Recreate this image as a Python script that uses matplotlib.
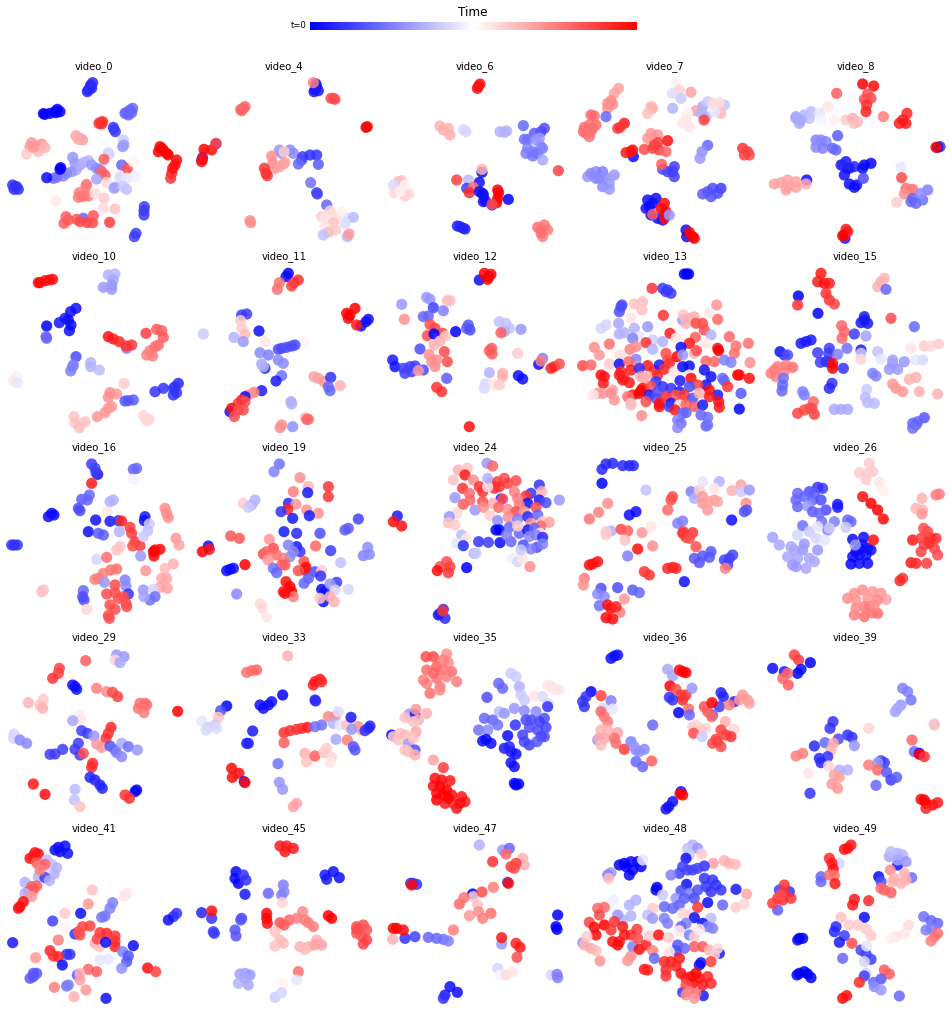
import numpy as np
import matplotlib
matplotlib.use('Agg')
import matplotlib.pyplot as plt

# each list: (x, y, t), embedding, t is normalised time
video_0 = [(265,60,.08),(272,45,.08),(278,38,.08),(262,65,.08),(275,55,.08),(270,52,.08),(135,133,0),(150,130,0),(165,125,0),(172,118,0),(168,128,.02),(130,131,0),(180,125,0),
 (378,128,.2),(390,120,.2),(398,115,.2),(385,135,.2),(375,130,.2),(395,128,.2),(302,157,.9),(308,155,.9),(297,160,.9),(305,162,.9),(342,178,.12),(346,185,.12),(340,172,.12),
 (370,210,.4),(372,225,.32),(368,230,.3),(228,197,.68),(240,205,.68),(248,210,.68),(235,208,.66),(95,218,.7),(90,230,.7),(110,228,.7),(125,222,.7),(135,233,.65),(115,245,.63),(80,252,.6),(100,232,.7),
 (328,252,.42),(325,248,.42),(312,268,.82),(365,285,.2),(382,295,.85),(400,275,.52),(218,262,.3),(225,280,.3),(240,285,.32),(250,278,.35),(265,272,.35),(275,285,.3),(290,295,.28),(300,300,.25),(228,300,.33),(215,305,.3),(200,310,.27),(190,318,.25),(170,322,.23),(160,325,.22),
 (182,293,0),(180,298,0),(140,323,.02),(305,305,.8),(315,315,.82),(360,322,.42),(380,325,.45),(405,320,.47),(290,327,.32),(320,338,.57),(342,355,.33),(345,352,.32),(370,350,.4),(380,358,.38),
 (260,343,.75),(258,348,.76),(238,368,.75),(235,382,.75),(250,378,.77),(265,378,.76),(245,380,.76),(285,370,.57),(312,385,.6),(310,415,.57),(345,417,.62),(168,393,.54),(433,410,.12),(432,422,.12),(432,435,.12),
 (250,445,.2),(198,440,.82),(192,460,.82),(205,450,.82),(230,448,.83),(240,455,.85),(262,458,.86),(278,458,.85),(280,437,.83),(329,457,.88),(408,490,.12),(403,500,.12),
 (45,350,.1),(38,345,.1),(55,358,.1),(50,350,.1),(42,358,.1),(480,230,1),(475,245,1),(490,240,1),(505,255,1),(530,270,.98),(525,285,.98),(515,310,.92),(512,325,.9),(518,295,.97),(500,250,1),(485,235,1)]
video_4 = [(648,222,.15),(605,270,.1),(608,262,.1),(612,238,1),(635,240,.97),(648,220,.87),(605,275,.95),(607,268,.97),(730,115,.8),(725,122,.8),(735,110,.8),(722,118,.8),
 (945,60,.05),(950,50,.05),(942,65,.05),(955,62,.05),(948,42,.05),(940,38,.75),(1000,85,.85),(993,85,.85),(1005,88,.85),(1102,170,.98),(1098,172,1),
 (838,240,.3),(845,250,.3),(870,240,.27),(880,250,.27),(852,245,.6),(908,260,.12),(905,270,.15),(895,282,.2),(930,255,.1),(950,255,.1),(955,283,.18),
 (815,258,.72),(818,280,.72),(825,295,.7),(850,282,.68),(855,278,.68),(840,290,.68),(793,295,.9),(798,310,.9),(802,317,.9),(932,338,.22),(950,368,.15),(952,372,.13),(980,405,.2),
 (965,440,.6),(990,423,.58),(975,445,.55),(1010,440,.57),(1025,425,.53),(1045,445,.44),(1060,442,.37),(1000,458,.62),(1035,460,.43),(975,470,.55),(1007,480,.6),(985,487,.63),(970,495,.38),(1042,500,.35),(1047,492,.7),
 (750,452,.72),(752,458,.72)]
video_6 = [(1205,332,.62),(1195,335,.63),(1180,345,.43),(1183,368,.58),(1215,378,.6),(1225,372,.58),(1200,365,.53),(1215,345,.53),(1320,168,.65),(1345,175,.65),(1330,180,.65),(1350,195,.65),(1390,178,.43),(1398,185,.42),
 (1370,330,.87),(1405,330,.37),(1436,48,.97),(1432,55,.97),(1440,42,.97),(1513,187,.35),(1500,185,.35),(1520,183,.35),(1570,167,.2),
 (1633,175,.15),(1623,185,.15),(1603,190,.18),(1583,208,.22),(1573,208,.22),(1618,205,.3),(1608,210,.3),(1623,230,.28),(1583,235,.25),(1598,245,.25),(1578,250,.25),(1613,250,.22),(1628,235,.25),(1598,258,.23),(1628,270,.33),(1675,302,.87),
 (1446,307,.02),(1446,298,.65),(1438,337,.03),(1400,355,.12),(1420,352,.78),(1408,368,.92),(1448,370,.03),(1438,365,.03),(1450,375,.03),(1456,392,.03),(1450,395,.03),(1476,405,.05),(1525,388,0),
 (1493,360,1),(1496,368,1),(1493,385,1),(1490,398,1),(1476,403,.85),(1623,480,.78),(1613,472,.78),(1643,480,.75),(1633,465,.77),(1628,500,.75),(1623,490,.78),(1380,470,.07),(1390,475,.07),(1372,468,.07),(1395,477,.07)]
video_7 = [(428,55,.68),(415,70,.68),(405,92,.72),(395,100,.72),(410,103,.72),(395,115,.72),(355,138,.78),(345,135,.8),(390,140,.2),(325,172,.78),(340,165,.78),(350,175,.77),(330,190,.78),(340,200,.77),(322,185,.78),(345,185,.78),(360,165,.78),
 (425,175,.88),(445,160,.95),(432,172,.9),(472,260,.02),(463,245,.95),(450,248,.95),(470,240,.97),(600,35,.53),(590,70,.43),(610,60,.58),(645,67,.68),(615,85,.4),(590,115,.35),(525,110,.65),(530,115,.65),(515,130,.62),
 (680,110,.33),(695,95,.4),(745,105,.38),(710,100,.57),(730,98,.57),(660,122,.68),(635,130,.53),(675,130,.35),(690,140,.35),(735,130,.63),(715,125,.45),(684,150,.87),(620,160,.55),(640,170,.55),(630,150,.55),
 (525,190,.7),(515,205,.7),(545,195,.72),(545,218,.88),(575,212,.97),(505,238,.85),(530,235,.87),(550,240,.87),(570,245,.8),(535,225,.87),(695,226,.2),(678,245,.28),(672,265,.3),(800,235,.9),(815,245,.88),(820,255,.85),(805,255,.87),
 (595,290,.12),(590,305,.13),(575,305,.12),(560,298,.15),(557,283,.82),(595,320,.13),(335,320,.3),(345,310,.27),(360,305,.27),(380,305,.25),(370,325,.25),(385,320,.28),(415,315,.3),(400,340,.3),(380,350,.27),(400,358,.3),(360,325,.27),
 (680,372,.18),(695,365,.17),(710,355,.15),(735,355,.12),(725,370,.15),(705,380,.17),(515,390,.02),(540,385,.02),(510,415,.04),(530,400,.03),(525,435,.03),(545,445,.03),(560,450,.03),(520,410,.02),
 (565,400,.98),(555,415,1),(570,425,1),(565,445,.98),(530,433,.82),(580,435,.3),(630,480,.02),(632,500,.02),(640,487,1),(650,500,1),(655,505,1)]
video_8 = [(1160,42,1),(1193,48,.98),(1082,70,.82),(1175,72,.85),(1185,85,.85),(1165,88,.85),(1172,105,.9),(1170,125,.93),(1222,140,.75),(1293,130,.93),(1270,160,.95),(1290,160,.95),(1280,150,.95),
 (960,140,.32),(985,135,.35),(970,160,.33),(1005,125,.37),(1000,145,.38),(1030,130,.45),(1055,110,.55),(1035,150,.48),(1075,150,.53),(1110,150,.6),(1130,145,.65),(1145,155,.63),(1135,160,.63),(960,145,.33),(975,150,.33),
 (1085,197,.18),(1020,210,.26),(1035,210,.27),(1050,215,.26),(1020,232,.27),(1040,235,.25),(1070,235,.2),(1080,240,.2),(1392,230,.1),(1385,232,.03),(1380,232,1),
 (1095,285,.07),(1110,275,.05),(1120,295,.07),(1135,290,.07),(1100,285,.08),(1115,295,.06),(1165,285,.01),(1185,280,.01),(1160,295,.02),(1105,315,.03),(1120,342,.02),(1135,352,.02),(1142,345,.03),(1162,325,.15),
 (992,330,.02),(895,342,.68),(915,338,.68),(935,330,.68),(935,350,.68),(960,335,.68),(960,352,.68),(930,360,.68),(990,342,.66),(1275,292,.45),(1277,323,.85),(1290,355,.78),(1310,358,.78),(1285,372,.72),(1262,397,.6),
 (1310,385,.2),(1320,400,.2),(1340,390,.22),(1355,360,.25),(1335,370,.28),(1305,395,.2),(1107,505,.05),(1110,478,.95),(1105,495,.96),(1115,485,.95),(1100,497,1)]
video_10 = [(120,68,.97),(135,62,.97),(158,58,.97),(115,68,.98),(148,60,.98),(325,45,.35),(345,42,.36),(340,60,.33),(335,75,.3),(310,82,.3),(335,88,.3),(228,145,.03),(212,155,.03),(195,175,.04),(178,188,.04),(205,180,.03),(213,195,.03),(208,212,.02),(140,198,0),(138,230,.2),(140,235,.2),
 (380,265,.25),(325,230,.97),(340,237,.95),(358,245,.92),(378,258,.9),(395,255,.9),(438,220,.88),(470,208,.82),(485,212,.82),(490,232,.82),(475,255,.8),(450,272,.75),(440,285,.75),(458,288,.75),(465,260,.78),
 (228,290,.15),(218,320,.25),(212,333,.25),(220,315,.25),(272,308,.35),(272,320,.35),(298,330,.37),(50,350,.48),(40,363,.55),(52,368,.45),(372,370,.6),(330,398,.72),(325,412,.72),(350,402,.7),(335,440,.7),(315,458,.7),(292,470,.7),(325,445,.7),
 (385,422,.18),(400,420,.18),(375,423,.17),(465,395,.1),(490,385,.1),(520,385,.1),(535,370,.08),(520,405,.1),(530,398,.1),(525,380,.1),(222,470,.62),(225,488,.62),(255,485,.62),(238,503,.63),(430,467,.58),(440,482,.58),(448,478,.58)]
video_11 = [(865,40,0),(858,50,.02),(832,88,.78),(838,68,.78),(882,68,.9),(895,60,.9),(875,78,.88),(725,165,.12),(740,162,.12),(722,182,.6),(725,205,.6),(735,222,.63),(777,213,.03),(610,222,.4),(702,232,.35),(730,245,.3),(795,245,.55),(912,245,.52),
 (875,258,.15),(845,265,.15),(860,262,.15),(835,268,.15),(885,255,.15),(780,278,.27),(805,285,.25),(835,300,.27),(850,310,.27),(795,325,.08),(785,312,.33),(790,320,.35),(845,347,.22),(828,363,.05),
 (942,350,.68),(955,355,.68),(972,365,.7),(992,352,.1),(985,380,.2),(990,392,.2),(1020,377,.65),(785,392,.05),(762,397,.75),(745,405,.72),(735,410,.02),(725,420,.9),(735,425,.85),(715,430,.9),(690,455,.03),(695,445,.97),(715,450,.85),(730,450,.85),(703,470,.85),
 (873,425,.33),(875,432,.35),(845,495,.72),(840,503,.72),(878,500,.28),(915,472,.6),(925,478,.8),(920,478,.8),(1083,198,.02),(1105,178,.03),(1098,185,.03),(1040,160,1),(1065,145,1),(1045,175,1),(1050,165,1),(1070,195,.95)]
video_12 = [(1205,133,.3),(1213,178,.72),(1280,112,.3),(1290,118,.3),(1300,143,.13),(1330,152,.25),(1270,170,.2),(1285,168,.2),(1342,122,.63),(1350,122,.63),(1290,193,.85),(1305,205,.87),(1282,227,.85),(1328,220,.87),(1302,222,0),(1338,228,.6),(1367,215,0),(1320,243,.65),(1302,255,.65),(1260,267,.15),(1287,284,.72),(1333,275,.85),(1342,305,.85),(1310,300,.72),(1295,305,.72),(1305,320,.72),
 (1178,300,.05),(1185,320,.03),(1210,325,.12),(1230,320,.12),(1245,318,.12),(1215,340,.13),(1235,335,.13),(1270,330,.15),(1255,332,.7),(1340,355,.18),(1310,382,.9),(1325,395,.9),(1408,500,.97),(1405,195,.17),(1400,205,.18),(1410,210,.15),
 (1438,60,.02),(1453,40,1),(1466,50,1),(1473,43,1),(1463,58,1),(1498,185,.38),(1518,190,.38),(1528,205,.38),(1513,215,.35),(1503,218,.82),(1563,208,.3),(1475,265,.82),(1468,272,.82),(1476,282,.82),(1553,280,.6),
 (1628,295,.25),(1616,313,.02),(1623,303,.75),(1663,320,.92),(1678,312,.85),(1653,325,.93),(1468,338,.35),(1508,340,.65),(1508,350,.65),(1555,347,.03),(1568,357,.02),(1456,372,.42),(1478,372,.55),(1498,375,.6),(1453,385,.43)]
video_13 = [(632,42,0),(625,42,0),(638,42,0),(528,85,.9),(560,85,.12),(570,95,.12),(585,100,.12),(575,90,.12),(435,140,.15),(430,155,.15),(438,135,.15),(475,132,.62),(500,125,.62),(498,150,.62),(465,175,.55),(562,166,.9),(722,135,.7),(725,178,.8),(700,158,.55),
 (620,180,.3),(622,165,.62),(640,175,.65),(630,190,.65),(655,170,.65),(680,190,.85),(660,190,.85),(685,210,.85),(390,195,.42),(375,205,.42),(428,190,.33),(475,205,.35),(515,200,.3),(430,222,.35),(445,218,.35),
 (490,230,.45),(470,235,.25),(530,240,.4),(510,248,.9),(582,220,.95),(560,245,.35),(600,235,.55),(658,232,.82),(705,225,.35),(690,250,.55),(640,250,.95),(615,262,.02),(760,230,.8),
 (355,262,.72),(370,285,.7),(400,252,.78),(462,268,.75),(480,260,.72),(530,268,.35),(725,265,.98),(728,272,1),(780,258,.78),(775,280,.78),(817,250,.78),(432,285,.57),(480,298,.25),(570,280,.85),(575,300,.85),(603,290,1),(620,285,.3),(655,280,.65),(662,272,.85),
 (320,317,.85),(345,315,.8),(400,312,.6),(430,312,.02),(458,305,.8),(485,320,.7),(515,317,.95),(535,330,.92),(550,315,.05),(580,310,.9),(690,303,.8),(715,305,.8),(745,300,.25),(765,307,.25),(822,308,.72),
 (375,345,.97),(385,350,.97),(435,335,.92),(430,345,.95),(445,355,.9),(465,330,.95),(490,325,.1),(495,350,.68),(515,350,.65),(545,345,.92),(565,328,.92),(595,335,.55),(620,320,.02),(640,318,.02),(685,330,.03),(640,345,.55),(705,350,.03),(740,355,.2),(785,345,1),(790,345,.98),(820,355,.97),
 (382,370,.95),(440,360,.95),(460,368,.95),(505,355,.65),(540,365,.1),(612,362,.05),(645,355,.98),(690,375,.03),(665,375,.88),(745,362,.2),(380,400,.7),(410,390,.68),(365,400,.7),(500,385,.98),(525,380,.85),(560,380,.1),(585,385,.1),(610,395,.05),(640,380,.15),(755,380,.9),
 (352,405,.55),(405,400,.72),(415,420,.7),(470,405,.95),(490,400,1),(495,392,1),(520,405,.05),(545,395,.15),(600,405,.85),(625,405,.9),(700,390,.97),(725,405,.05),(795,400,.17),(455,410,.78),(465,430,.62),(510,425,.85),(540,415,.15),(550,430,.97),(570,410,.92),(585,430,.03),(620,420,.85),(650,415,.15),(670,400,.65),(700,410,.95),(728,425,.97),
 (465,435,.63),(550,440,.98),(580,440,.12),(610,435,.55),(630,435,.8),(655,440,.82),(680,435,.05),(730,442,.95),(790,447,0),(597,450,.95),(620,460,.2),(630,458,.2),(675,465,.2),(695,472,.22),(497,467,.72),(605,480,.25),(615,490,.22),(605,503,.27),(690,498,.2),(695,495,.22)]
video_15 = [(1035,40,.95),(1025,65,.95),(1045,70,.97),(1060,70,.95),(1050,100,.9),(1060,120,.9),(1075,132,.87),(967,108,0),(965,135,.9),(1026,160,0),(1225,55,.65),(1205,80,.65),(1215,65,.65),(1230,88,.2),(1165,180,.05),(1155,188,.05),(1175,190,.05),(1165,170,.05),(1245,175,.85),(1315,200,.2),
 (1097,197,.8),(1105,215,.8),(1098,235,.8),(1135,222,.12),(1170,228,.32),(1005,240,.05),(975,250,.05),(990,245,.05),(912,275,.03),(925,285,.1),(935,285,.15),(1025,278,.12),(1060,265,.12),(1058,280,.12),(1085,283,.25),(1113,265,.22),(1155,270,.05),(1155,280,.4),
 (1205,275,.38),(1215,298,.45),(1305,265,.55),(1345,258,.6),(1365,258,.58),(1388,252,.6),(1033,307,.12),(1060,307,.1),(1050,305,.1),(1070,310,.98),(1070,325,1),(1102,325,.1),(1155,298,.58),(1250,300,.32),(1250,310,.32),(1285,305,.3),(1240,328,.3),(1265,328,.3),(1320,300,.45),(1340,300,.43),
 (895,330,.75),(885,340,.75),(905,320,.75),(930,315,.75),(950,322,.78),(900,350,.75),(925,335,.75),(922,355,.22),(920,375,.2),(918,393,.2),(1068,370,.1),(1060,385,.08),(1190,340,.25),(1200,348,.25),(1300,358,.65),(1320,352,.65),(1250,372,.7),(1260,385,.7),(1280,395,.7),(1330,395,.65),(1385,402,.65),
 (980,395,.25),(985,405,.25),(1172,388,.4),(1168,412,.37),(1175,428,.37),(1195,430,.37),(1012,425,.8),(1000,445,.85),(985,450,.85),(965,460,.87),(1015,463,.87),(1008,445,.85),(1075,448,.33),(1095,448,.33),(1115,448,.33),(1345,473,.17),(1325,485,.2),(1310,490,.2),(1320,495,.2),(1310,505,.22)]
video_16 = [(275,42,.12),(293,73,.02),(285,55,.13),(288,68,.12),(400,58,.2),(410,55,.2),(400,88,.48),(275,100,.95),(268,135,.2),(245,148,.18),(262,150,.2),(330,155,.35),(340,150,.35),(322,185,.55),(235,175,.15),(240,182,.15),(495,175,.72),(500,190,.72),(505,203,.72),
 (155,190,.02),(145,200,.02),(162,195,.02),(435,200,.05),(433,212,.03),(287,210,.03),(330,214,.05),(355,212,.1),(365,213,.93),(448,222,.4),(443,243,.38),(265,245,.03),(295,250,.18),(310,255,.18),(358,245,.35),(390,232,.88),(395,250,.88),(405,275,.88),(420,287,.88),(398,288,.85),
 (42,285,.1),(35,285,.1),(52,285,.1),(430,260,.4),(528,265,.7),(537,285,.68),(360,290,.62),(350,300,.62),(465,300,1),(480,298,.98),(462,318,.98),(460,305,1),(422,318,.3),(290,328,.42),(320,322,.78),(520,342,.65),(495,355,.63),(485,385,.67),(500,385,.67),(480,412,.68),(502,415,.68),(437,362,.7),
 (350,357,.78),(332,360,.78),(310,370,.75),(295,385,.75),(285,388,.75),(375,390,.25),(313,397,.3),(378,408,.27),(385,432,.1),(345,405,.85),(320,432,.85),(345,428,.85),(370,440,.85),(355,445,.85),(378,460,.85),(380,470,.85),(330,465,.85),(345,478,.85),(325,497,.85),(328,505,.85),
 (130,420,.62),(125,425,.62),(250,422,.2),(248,440,.15),(252,450,.15),(260,478,.58),(430,420,.3),(460,418,.42),(465,440,.22),(450,450,.22),(432,440,.32)]
video_19 = [(838,42,.22),(822,65,.25),(900,83,.72),(925,110,.65),(985,110,.9),(985,140,.9),(923,128,.05),(880,125,.75),(765,150,.35),(730,160,.6),(755,165,.35),(745,172,.4),(865,160,.08),(888,163,.7),(863,178,.93),(843,185,.1),(920,180,.72),(955,190,.72),(878,205,.05),(928,197,.05),(1075,207,.13),(1045,235,.18),(1035,240,.18),
 (852,245,.05),(890,250,.08),(960,250,.15),(692,258,.83),(718,265,.83),(625,288,.02),(628,298,.97),(607,305,1),(808,268,.7),(890,290,.05),(900,305,.1),(947,288,.8),(992,302,.12),(865,285,.25),(1103,292,.28),(1090,317,.25),(1108,313,.27),(1022,338,.38),
 (870,320,.27),(880,305,.27),(790,312,.85),(820,295,.85),(800,305,.8),(830,315,.78),(850,325,.75),(805,330,.7),(845,345,.82),(855,345,.82),(690,358,.02),(700,355,.02),(680,362,.02),(735,344,1),(912,335,.85),(918,352,.97),(915,360,.97),(895,362,.85),(820,355,.22),(830,368,.2),(945,365,.15),(965,362,.6),(962,378,.1),
 (925,385,.18),(912,400,.2),(858,395,.97),(870,410,1),(850,425,.97),(875,425,1),(880,440,.75),(855,430,.98),(710,432,.27),(965,418,.02),(975,425,.03),(1010,397,.12),(990,402,.3),(1005,420,.42),(1045,418,.42),(970,455,.02),(960,445,.62),(990,440,.65),(1003,455,.65),(780,462,.57),(790,475,.58),(800,500,.55),(815,478,.5)]
video_24 = [(1192,198,.05),(1180,215,.97),(1205,228,.97),(1375,60,.65),(1402,55,.62),(1395,75,.95),(1360,90,.62),(1420,90,.72),(1388,115,.9),(1408,130,.78),(1365,143,.3),(1390,163,.82),(1410,150,.8),(1425,180,.3),(1370,190,.58),(1348,200,.3),(1345,218,.62),(1365,225,.6),(1385,255,.37),(1370,280,.45),(1400,265,.55),(1390,287,.08),(1422,310,.35),
 (1340,335,.85),(1320,350,.85),(1350,350,.87),(1312,362,.97),(1345,368,.9),(1400,353,0),(1320,490,.08),(1335,505,.08),(1315,495,.05),(1330,478,.08),(1328,483,.9),(1461,40,.3),(1478,48,.8),
 (1438,110,.9),(1448,125,.9),(1473,100,.88),(1493,95,.88),(1513,85,.85),(1523,100,.87),(1548,92,.85),(1483,115,.9),(1498,110,.9),(1463,110,.55),(1463,85,.35),(1618,105,.1),(1543,125,.75),(1593,130,.1),(1578,138,.9),(1625,125,.65),(1503,147,.05),(1508,147,.85),(1553,145,.75),(1478,160,.65),(1448,155,.85),(1618,150,.05),(1583,160,.03),(1638,158,.15),(1678,150,.3),
 (1450,172,.72),(1496,172,.8),(1523,178,.72),(1558,165,.75),(1548,185,.85),(1573,185,.7),(1608,172,.85),(1470,197,.6),(1493,212,.28),(1525,202,.72),(1553,208,.25),(1583,200,.08),(1613,195,.2),(1628,215,.62),(1648,217,.68),(1593,220,.72),
 (1488,240,0),(1498,240,0),(1528,232,.2),(1558,250,.2),(1583,240,.05),(1553,228,.6),(1623,228,.8),(1603,235,.2),(1620,250,.55),(1436,275,.1),(1465,277,.12),(1500,278,.02),(1533,275,.2),(1520,255,.25),(1588,260,.27),(1608,255,.25),(1628,262,.08),(1570,285,.15),(1611,292,.15),(1593,297,.25),(1628,282,.25),
 (1538,325,.47),(1553,335,.42),(1566,325,.55),(1563,300,.4),(1590,350,.72),(1428,310,.4)]
video_25 = [(378,58,.08),(390,42,.08),(410,40,.08),(440,47,.08),(460,47,.08),(472,47,.08),(378,100,0),(510,120,.38),(590,140,.85),(585,150,.85),(395,160,.72),(368,187,.75),(340,207,.77),(575,180,.8),(460,195,.02),(480,185,.02),(645,125,.25),(655,130,.28),(655,145,.35),(670,120,.6),(680,140,.7),(715,150,.68),(695,180,.7),(680,160,.7),(725,155,.67),(700,155,.68),
 (680,95,.45),(730,95,.35),(715,115,.55),(768,122,.65),(795,105,.68),(795,125,.4),(820,120,.3),(810,160,.72),(812,180,.17),(805,185,.17),(767,210,.02),(605,220,.25),(620,213,.25),(405,243,.35),(390,245,.6),(390,255,.6),(435,238,.85),(455,243,.82),(498,248,.7),(525,230,.55),
 (622,245,.88),(650,248,.9),(630,262,.87),(620,250,.9),(640,265,.85),(447,270,.62),(485,297,.97),(530,288,.72),(660,290,.85),(455,318,.25),(350,342,.97),(340,345,.97),(365,335,.97),(655,325,.17),(680,318,.17),(705,305,.17),(700,322,.17),(670,338,.17),(745,330,.13),(770,315,.13),(760,325,.13),(755,345,.13),(748,355,.75),
 (575,355,.93),(600,355,.93),(590,352,.93),(505,365,.9),(520,375,.9),(625,395,.03),(325,385,.75),(322,405,.72),(375,415,.15),(425,413,.15),(470,420,.18),(490,428,.2),(365,432,.27),(385,440,.27),(370,467,.22),(445,447,.7),(432,487,.75),(395,465,.98),(405,475,.98),(420,470,.93),(390,503,.98),(410,507,.98)]
video_26 = [(1040,115,.12),(1025,112,.1),(1000,125,.15),(965,130,.2),(960,150,.2),(985,140,.2),(1015,130,.18),(1010,150,.2),(1035,150,.15),(1050,180,.15),(965,170,.2),(995,168,.3),(1010,185,.18),(1030,190,.2),(1085,163,.05),(1085,172,.05),(1037,215,.22),(1075,215,.25),(1055,240,.25),(1115,210,.2),(1125,215,.2),(980,227,.22),
 (1160,140,.97),(1185,160,1),(1205,180,1),(1222,207,.98),(1150,68,.6),(1180,40,.6),(1175,70,.6),(1190,65,.6),(1170,88,.6),(1210,97,.55),(1222,122,.53),(1338,145,.65),(1380,135,.75),(1390,132,.75),(1320,175,.65),(1340,180,.65),(1338,192,.7),
 (1343,235,.85),(1310,270,.95),(1335,265,.88),(1360,262,.9),(1380,265,.9),(1345,285,.87),(1375,295,.87),(1385,315,.85),(1305,338,.95),(1320,340,.92),(1352,340,.88),(1365,265,.92),(1355,245,.85),(1335,305,.87),(1360,280,.9),
 (1163,262,.02),(1130,268,.02),(1150,295,.03),(1175,295,.03),(1130,320,.02),(1150,315,.03),(1170,315,.03),(1185,300,.03),(1125,342,.01),(1150,340,.02),(1175,340,.02),(1160,285,.03),(1140,305,.02),(1192,270,.97),(1138,285,.3),
 (890,262,.32),(910,285,.33),(965,255,.42),(1000,245,.4),(1020,265,.42),(1045,270,.45),(1060,235,.4),(1025,230,.45),(1110,232,.4),(945,290,.33),(985,282,.3),(1025,300,.3),(935,320,.33),(955,300,.33),(980,300,.3),(965,325,.33),(1000,325,.33),(1015,335,.33),(950,345,.3),(990,355,.33),(960,350,.3),
 (1280,385,.9),(1272,392,.92),(1115,445,.72),(1135,430,.72),(1160,420,.72),(1190,425,.7),(1215,430,.7),(1230,448,.68),(1140,450,.7),(1175,445,.7),(1205,450,.72),(1165,470,.75),(1135,495,.75),(1165,500,.78),(1190,488,.78),(1205,490,.78),(1140,475,.73),(1180,470,.75),(1195,465,.72)]
video_29 = [(257,62,.82),(178,85,.87),(175,100,.87),(158,115,.9),(350,45,.3),(372,50,.3),(345,60,.58),(360,68,.33),(225,140,.03),(218,135,.03),(230,148,.03),(290,145,.75),(320,155,.73),(338,157,.85),(353,170,.87),(85,188,.65),(130,178,.6),(120,195,.62),(128,205,.65),(420,190,.78),(435,190,.78),(415,205,.78),(432,218,.76),(440,195,.78),
 (533,214,1),(238,225,.47),(242,238,.55),(218,242,.33),(333,262,.92),(325,280,.9),(318,295,.9),(245,272,.12),(262,280,.12),(282,288,.3),(42,282,.42),(40,295,.42),(60,300,.27),(80,310,.27),(290,312,.7),(305,322,.7),(330,318,.17),(345,330,.2),(365,310,.33),(385,320,.22),(412,330,.3),(350,338,.25),(365,350,.27),
 (235,310,.12),(225,328,.12),(240,345,.12),(250,340,.85),(188,328,.12),(165,342,.12),(150,343,.12),(278,370,.92),(275,382,.92),(270,412,.07),(285,420,.07),(300,435,.07),(307,445,.07),(100,432,.95),(135,463,.97),(405,455,.01),(410,450,0),(375,465,.9),(388,475,.9),(225,448,.37),(223,480,.38),(240,500,.62)]
video_33 = [(863,48,.65),(740,97,.78),(755,92,.78),(770,90,.8),(945,125,.95),(960,118,.95),(940,135,.95),(965,125,.92),(848,165,0),(947,183,.1),(945,180,.08),(780,195,.03),(790,205,.03),(805,195,.03),(815,185,.03),(680,198,0),(662,212,.15),(655,232,.62),(605,243,.45),(645,255,.4),(625,262,.4),(618,270,.43),(650,265,.43),
 (758,273,.05),(745,310,.07),(740,310,.07),(852,278,.9),(870,272,.9),(890,268,.9),(905,265,.9),(922,262,.95),(852,308,.82),(945,260,.22),(965,255,.22),(985,230,.73),(1005,230,.73),(1015,215,.43),(1000,250,.35),(1020,255,.45),(1040,255,.62),(1053,232,.05),(1075,260,.72),(1085,270,.68),(1055,268,.3),(1105,265,.07),(1095,272,.1),(1110,258,.07),
 (1008,298,.33),(1042,300,.75),(1060,320,.17),(1065,330,.17),(915,340,.65),(920,365,.62),(945,348,.82),(972,338,.62),(980,325,.6),(995,352,.58),(990,368,.55),(834,371,.22),(695,385,.98),(717,400,.98),(697,412,.97),(733,425,.03),(735,428,.98),(838,427,.3),(848,448,.3),(880,500,.68),(890,490,.68)]
video_35 = [(1278,50,.85),(1300,50,.85),(1340,42,.72),(1345,68,.72),(1310,80,.82),(1280,90,.78),(1330,90,.78),(1355,95,.78),(1270,120,.75),(1310,115,.77),(1340,110,.75),(1370,125,.75),(1280,130,.75),(1320,140,.75),(1290,160,.78),(1320,150,.73),(1300,100,.8),(1330,60,.75),
 (1228,222,.3),(1245,225,.05),(1248,208,.7),(1280,220,.65),(1215,233,.62),(1255,240,.65),(1240,245,.62),(1175,285,.03),(1180,290,.6),(1200,280,.62),(1215,285,.63),(1248,275,.67),(1195,300,.62),(1225,312,.3),(1245,330,.15),(1215,330,.62),(1225,335,.62),(1245,345,.65),(1240,295,.62),(1300,360,.68),(1330,383,.88),
 (1305,415,.97),(1325,420,.97),(1350,422,.95),(1300,438,.97),(1320,440,1),(1340,450,1),(1310,460,.98),(1330,465,1),(1355,465,.98),(1310,480,1),(1335,490,.95),(1360,490,.92),(1385,470,.95),(1395,485,.95),(1370,505,.95),(1380,490,.97),(1345,475,1),
 (1533,100,.4),(1548,110,.4),(1496,130,.2),(1508,145,.2),(1461,172,.15),(1558,140,.35),(1563,165,.4),(1603,168,.55),(1653,140,.57),(1668,148,.55),(1643,135,.55),(1678,150,.55),(1628,170,.43),(1643,190,.43),(1643,200,.1),(1573,180,.4),
 (1543,205,.3),(1573,212,.27),(1608,215,.27),(1498,215,.37),(1513,220,.3),(1453,235,.2),(1478,240,.2),(1493,255,.22),(1546,255,.1),(1578,240,.15),(1633,235,.15),(1618,245,.12),(1593,240,.15),(1436,270,.22),(1463,270,.27),(1458,298,.02),(1473,310,.02),(1448,303,.02),(1523,287,.02),(1568,285,.13),(1588,262,.15),(1613,270,.15),(1638,262,.13),(1623,290,.13),(1633,290,.15),(1573,305,.13),(1588,315,.13),(1611,305,.17),
 (1513,325,.05),(1533,335,.05),(1548,342,.03),(1533,368,.03),(1543,380,.03),(1548,435,0),(1543,430,0),(1556,432,0),(1528,320,.07)]
video_36 = [(415,48,.03),(405,55,.03),(425,45,.03),(345,155,0),(375,167,.87),(330,170,.1),(320,185,.1),(325,200,.1),(405,182,.25),(575,88,.33),(590,108,.33),(610,90,.97),(630,98,1),(620,95,1),(582,138,1),(600,148,.85),(615,165,.88),(620,180,.92),(630,165,.9),(638,207,.8),(580,172,.1),(590,180,.1),(648,145,.3),(735,158,.07),(742,170,.07),(608,218,0),(640,225,.2),
 (380,205,.42),(410,207,.45),(375,215,.8),(385,230,.77),(395,245,.75),(730,200,.12),(710,225,.2),(685,200,.85),(695,215,.82),(708,188,1),(707,230,.8),(775,185,.05),(760,195,.75),(800,165,.7),(815,180,.7),(790,180,.7),(820,190,.68),(530,255,.2),(660,255,.58),(690,265,.58),(650,262,.6),(675,268,.6),(748,245,.65),(775,268,.58),(653,280,.85),(678,290,.4),
 (365,300,.3),(375,270,.65),(395,270,.65),(425,278,.68),(370,295,.67),(385,295,.67),(415,295,.78),(420,310,.78),(375,315,.63),(445,328,.88),(465,305,.25),(480,330,.27),(505,328,.27),(475,320,.3),(490,335,.28),(480,365,.2),(500,380,.2),(527,363,.82),
 (720,298,.87),(735,270,.87),(765,290,.9),(710,310,.85),(735,320,.85),(750,285,.88),(725,305,.87),(578,500,.03),(590,485,.03),(570,507,.03),(615,455,.02),(620,465,1),(612,462,1)]
video_39 = [(955,45,.87),(968,60,.88),(1003,68,0),(890,85,.02),(925,95,.05),(965,100,.01),(975,88,.02),(935,100,.8),(920,115,.8),(937,135,.82),(1280,145,.25),(1295,155,.25),(1305,180,.23),(1275,195,.3),(1258,215,.32),(1265,205,.33),(1071,245,.1),(1062,265,.1),(1375,252,.4),(1375,255,.62),(1178,265,.58),
 (1115,285,.1),(1128,292,.1),(1087,297,.15),(1015,318,.08),(1047,308,.2),(1072,310,.67),(1065,330,.65),(1135,317,.3),(960,348,.75),(980,340,.75),(1030,355,.08),(1055,350,.1),(1035,368,.08),(1058,378,.58),(1308,300,.8),(1315,335,.2),(1330,340,0),(1330,343,1),(1345,350,.9),
 (1215,362,.15),(1225,368,.12),(1205,368,.3),(1178,375,.75),(1205,390,.8),(1232,397,.17),(1090,390,.35),(1115,390,.35),(998,400,.55),(1075,405,.68),(1090,412,.68),(1245,420,.12),(1262,412,.18),(1200,436,.2),(1068,432,.7),(1085,445,.7),(1002,460,.1),(1335,478,.98),(1350,490,.98),(1370,495,.98),(1385,488,.95),(1350,505,.93),(1345,480,1)]
video_41 = [(175,52,.02),(195,48,.02),(180,65,.02),(203,70,.03),(165,60,.03),(105,68,.97),(90,85,.97),(115,72,.97),(100,78,.95),(140,90,.37),(155,103,.38),(170,113,.35),(135,115,.42),(163,132,.35),(115,140,.35),(135,143,.12),(148,152,.35),(110,98,.82),(120,105,.77),(135,103,.8),(120,120,.75),
 (75,157,.35),(110,168,.82),(95,170,.82),(85,185,.82),(100,180,.82),(75,190,.35),(95,200,.7),(70,215,.97),(60,230,.97),(55,235,.97),(277,180,.62),(265,222,.7),(380,190,.55),(372,198,.55),(338,218,.25),(330,235,.25),(315,258,.23),(305,262,.23),(195,250,.6),(242,250,.03),(158,273,.13),(192,293,.52),
 (248,290,.87),(270,288,.87),(225,312,.1),(235,305,.85),(240,315,.85),(285,340,.65),(298,350,.62),(300,308,.9),(320,310,.92),(345,318,.9),(292,327,.87),(345,335,.9),(345,350,.92),(317,337,.02),(400,347,.02),(175,330,.75),(38,338,.05),(200,373,.1),(210,373,.1),(150,362,.92),(160,378,.9),(175,380,.92),(107,383,.7),
 (187,405,.02),(368,365,.25),(385,378,.17),(380,395,.17),(300,390,.45),(325,388,.45),(365,415,.28),(100,430,.17),(110,430,.17),(90,445,.18),(100,440,.17),(443,414,.97),(467,425,.87),(232,435,.18),(265,418,.8),(290,425,.82),(240,430,.65),(240,450,.68),(163,472,.75),(200,468,.22),(205,465,.25),(258,480,.7),(222,500,.65),(318,505,.03)]
video_45 = [(840,48,.95),(860,48,.95),(880,55,.95),(855,65,.95),(530,250,.1),(520,260,.1),(505,270,.03),(708,125,.01),(705,145,.01),(715,160,.01),(730,135,.1),(738,150,.1),(735,193,.05),(975,135,.05),(1000,125,.03),(1018,143,.03),(980,148,.05),(805,190,.2),(850,165,.25),(852,185,.27),(845,195,.25),(847,218,.58),
 (605,248,.07),(635,265,.1),(635,243,.97),(725,265,.15),(722,270,.17),(800,250,.98),(800,265,1),(802,280,.97),(985,257,1),(995,265,1),(908,245,.73),(840,278,.83),(852,285,.83),(868,270,.8),(890,265,.75),(915,270,.75),(940,290,.75),(925,278,.75),
 (1070,290,.85),(1090,285,.85),(1100,300,.83),(1070,310,.83),(1085,318,.83),(1100,330,.87),(1090,342,.87),(1070,298,.85),(643,310,.12),(640,305,.12),(705,300,.17),(708,318,.17),(825,305,.62),(840,330,.63),(825,348,.62),(850,340,.63),(900,350,.65),(925,350,.65),(950,330,.65),(965,345,.68),(945,345,.68),(915,358,.63),
 (735,430,.32),(720,432,.32),(750,435,.3),(715,460,.35),(745,465,.33),(735,445,.33),(895,425,.78),(848,460,.52),(890,450,.45),(825,502,.4),(845,488,.42)]
video_47 = [(1238,160,.1),(1250,163,.1),(1232,160,.1),(1235,165,.98),(1215,325,.1),(1245,320,.13),(1180,295,1),(1190,295,1),(1210,300,.98),(1178,328,.65),(1285,322,.2),(1310,325,.2),(1330,328,.22),(1345,333,.25),(1360,300,.75),(1418,192,0),(1420,200,.6),(1378,222,.8),(1392,203,.77),(1408,257,.7),(1335,495,.05),(1330,505,.1),(1350,470,.02),(1372,487,.02),
 (1438,45,.35),(1508,60,.3),(1528,55,.2),(1518,72,.8),(1478,95,.9),(1568,85,.65),(1573,105,.65),(1548,100,.88),(1533,110,.88),(1543,115,.85),(1523,157,.1),(1525,160,.98),(1480,172,.75),(1446,186,.85),(1433,225,.62),(1436,245,.72),(1448,265,.75),(1473,250,.78),
 (1673,255,0),(1668,290,0),(1671,298,0),(1505,342,.3),(1505,323,.95),(1548,340,.93),(1560,352,.95),(1551,382,.85),(1493,415,.42),(1500,435,.48),(1518,435,.57),(1538,425,.55),(1653,435,.42),(1671,433,.25),(1673,443,.25)]
video_48 = [(430,105,0),(445,100,0),(465,95,.02),(485,95,.03),(470,120,.01),(495,110,0),(460,135,.01),(450,110,0),(500,90,.45),(405,128,.3),(395,135,.25),(398,145,.63),(650,45,.35),(635,55,.38),(665,55,.3),(640,75,.4),(630,85,.03),(677,72,.6),(712,100,.68),(745,92,.65),(760,100,.65),(778,103,.63),
 (620,110,.13),(635,120,.13),(650,120,.13),(610,130,.13),(685,108,.1),(665,115,.13),(585,135,.25),(685,145,.1),(710,150,.1),(735,180,.1),(720,165,.1),(690,170,.1),(705,185,.1),(632,163,.03),(543,172,0),(540,180,0),(615,182,.15),(640,190,.25),(665,180,.15),(780,178,.05),(812,192,.67),(560,195,.4),
 (600,205,.3),(625,205,.18),(655,205,.15),(695,218,.02),(740,225,.2),(780,232,.6),(805,222,.58),(480,210,.35),(460,225,.35),(412,210,.47),(565,230,.2),(590,235,.2),(610,225,.2),(530,235,.6),(515,255,.38),(530,265,.3),(665,232,.9),
 (440,270,.35),(465,258,.35),(425,255,.3),(385,232,.8),(365,235,.8),(370,255,.85),(340,277,.87),(385,285,1),(355,292,.98),(415,275,.9),(405,300,.9),(440,290,.95),(360,315,.98),(565,265,.25),(575,280,.25),(620,250,.58),(640,255,.58),(655,263,.03),(705,265,.37),(680,280,.03),(630,280,.25),(615,290,.2),(710,295,.25),(695,290,.25),
 (470,350,.25),(483,298,.88),(465,315,.9),(445,315,.95),(485,325,.85),(430,335,.95),(410,335,.97),(425,345,.98),(490,358,.98),(510,345,.93),(520,318,.6),(548,315,.97),(578,323,.6),(610,302,.55),(640,315,.25),(655,320,.6),(670,298,.55),(320,338,.3),(325,345,.65),(345,355,.67),(360,362,.63),(333,320,.6),
 (465,378,.72),(455,392,.7),(372,393,.7),(530,362,.75),(535,385,.2),(605,345,.17),(625,355,.2),(600,362,.15),(580,365,.55),(655,350,.82),(680,350,.83),(700,360,.65),(730,370,.05),(725,355,.57),(715,375,.6),(675,398,.03),(670,405,.03),(565,395,.92),(585,395,.93),(610,385,.95),(600,408,.93),(705,395,.87),
 (505,418,.95),(515,420,.93),(570,420,.92),(615,430,.97),(570,438,.9),(620,487,.1),(682,497,.05),(660,430,1),(645,440,1),(630,445,.95),(670,445,.97),(695,440,.92),(705,460,.92),(650,460,.98),(630,465,.85),(640,485,.75),(660,490,.78),(630,495,.72),(655,505,.7),(680,465,.95)]
video_49 = [(1105,58,.95),(1125,45,.95),(1115,55,.97),(1265,105,.02),(1240,80,.33),(1265,70,.35),(1280,75,.35),(1245,65,.37),(1265,90,.33),(1290,95,.3),(1090,100,.42),(1060,85,.92),(1068,100,.95),(1072,118,.97),(1035,140,.2),(1035,155,.2),(1075,137,.78),(1060,135,.78),(1077,161,.95),
 (1208,140,.02),(1215,155,.15),(1307,143,.22),(1243,120,.72),(1255,145,.65),(1285,130,.65),(1275,160,.65),(1250,155,.65),(1290,150,.65),(1215,175,.8),(1225,180,.8),(1245,188,.82),(910,180,.13),(905,240,.18),(940,185,.1),(925,165,.9),(905,205,.88),(920,210,.9),(890,220,.88),(945,205,.9),(925,190,.9),(915,195,.85),
 (1135,208,.95),(1130,225,.95),(1178,212,.92),(1165,262,.02),(1080,290,.08),(1075,305,.08),(1105,317,.12),(1090,337,.05),(1095,262,.62),(1120,285,.6),(1145,285,.6),(1170,297,.6),(1185,317,.6),(1128,340,.85),(1298,285,.57),(1285,312,.55),(1260,320,.55),(1245,325,.53),
 (1343,260,.22),(1365,272,.2),(1385,280,.2),(1350,300,.25),(1365,295,.25),(1385,310,.78),(1375,320,.78),(1365,333,.75),(970,325,0),(965,330,.01),(980,325,0),(1155,360,.13),(1170,372,.13),(1185,388,.12),(1172,348,.45),(1100,385,.2),(1165,395,.42),
 (1225,420,.82),(1240,432,.82),(1170,430,.42),(1165,438,.12),(1215,447,.17),(1193,457,.2),(1150,457,.92),(1195,470,.27),(1215,480,.3),(970,430,0),(985,425,0),(995,432,0),(1005,443,0),(963,435,0),(1270,498,.2),(1100,505,.97),(1112,497,.97)]

names = ['video_0', 'video_4', 'video_6', 'video_7', 'video_8',
         'video_10', 'video_11', 'video_12', 'video_13', 'video_15',
         'video_16', 'video_19', 'video_24', 'video_25', 'video_26',
         'video_29', 'video_33', 'video_35', 'video_36', 'video_39',
         'video_41', 'video_45', 'video_47', 'video_48', 'video_49']
panels = [video_0, video_4, video_6, video_7, video_8,
          video_10, video_11, video_12, video_13, video_15,
          video_16, video_19, video_24, video_25, video_26,
          video_29, video_33, video_35, video_36, video_39,
          video_41, video_45, video_47, video_48, video_49]

W, H = 952, 1010
fig = plt.figure(figsize=(W / 72, H / 72), dpi=72)

for i, (name, pts) in enumerate(zip(names, panels)):
    r, c = divmod(i, 5)
    top = 70 + 190 * r
    ax = fig.add_axes([190.4 * c / W, 1 - (top + 190) / H, 190.4 / W, 190 / H])
    # the two right columns were read in a frame starting at x=1428
    x0 = 571.2 * c - (1428 if c >= 3 else 0)
    ax.set_xlim(x0, x0 + 571.2)
    ax.set_ylim(570, 0)
    p = np.array(pts)
    ax.scatter(p[:, 0], p[:, 1], c=p[:, 2], cmap='bwr', vmin=0, vmax=1,
               s=125, alpha=0.85, linewidths=0, clip_on=False)
    ax.axis('off')
    fig.text((94 + 190.4 * c) / W, 1 - (66.5 + 190.5 * r) / H, name,
             ha='center', va='center', fontsize=10)

# colour bar on top
cax = fig.add_axes([310 / W, 1 - 29.5 / H, 327 / W, 8 / H])
sm = plt.cm.ScalarMappable(cmap='bwr', norm=plt.Normalize(0, 1))
cb = fig.colorbar(sm, cax=cax, orientation='horizontal')
cb.set_ticks([])
cb.outline.set_visible(False)
fig.text(473 / W, 1 - 12.5 / H, 'Time', ha='center', va='center', fontsize=12)
fig.text(307 / W, 1 - 25.5 / H, 't=0', ha='right', va='center', fontsize=8.5)

fig.savefig('out.png', dpi=72)
